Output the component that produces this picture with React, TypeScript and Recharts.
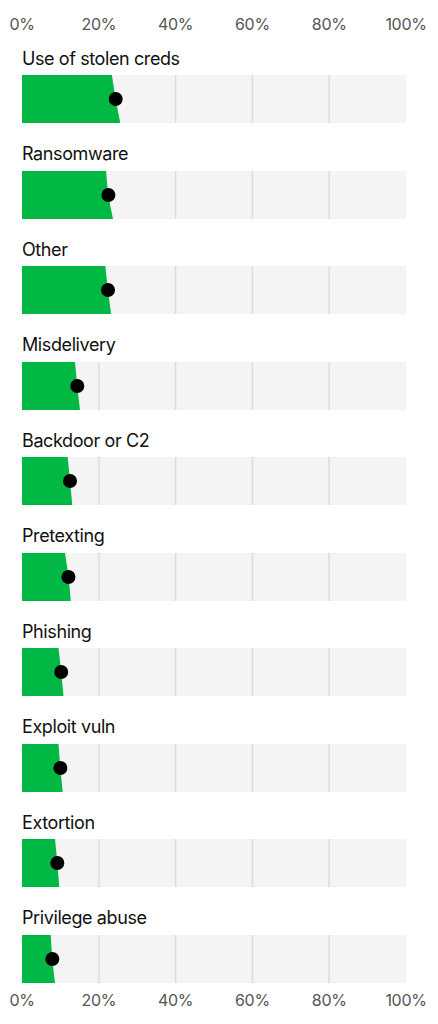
import { ComposedChart, Area, XAxis, YAxis, CartesianGrid, ReferenceDot } from "recharts"

const categories = [
  "Use of stolen creds",
  "Ransomware",
  "Other",
  "Misdelivery",
  "Backdoor or C2",
  "Pretexting",
  "Phishing",
  "Exploit vuln",
  "Extortion",
  "Privilege abuse",
]
// point estimate (%)
const values = [24.4, 22.5, 22.4, 14.4, 12.5, 12.1, 10.2, 10.0, 9.2, 7.9]
// edge of the green slab at the top and bottom of each band (%)
const lower = [23.4, 21.9, 21.7, 13.8, 11.9, 11.2, 9.5, 9.5, 8.6, 7.5]
const upper = [25.6, 23.7, 23.2, 15.1, 13.1, 12.7, 10.8, 10.6, 9.7, 8.6]
const ticks = [0, 20, 40, 60, 80, 100]

const W = 438
const LEFT = 22
const RIGHT = 32
const BAND_H = 48
const FIRST_BAND = 75
const PITCH = 95.5
const FONT = "Inter, 'Noto Sans', sans-serif"

function AxisRow({ top, orientation }: { top: number; orientation: "top" | "bottom" }) {
  return (
    <div style={{ position: "absolute", left: 0, top }}>
      <ComposedChart
        width={W}
        height={30}
        data={[{ v: 0 }]}
        margin={{ top: 0, right: RIGHT, bottom: 0, left: LEFT }}
      >
        <XAxis
          type="number"
          dataKey="v"
          domain={[0, 100]}
          ticks={ticks}
          orientation={orientation}
          axisLine={false}
          tickLine={false}
          height={30}
          tickFormatter={(t) => `${t}%`}
          tick={{ fill: "#555", fontSize: 16, fontFamily: FONT, letterSpacing: -0.3 }}
          interval={0}
        />
      </ComposedChart>
    </div>
  )
}

function Row({ i }: { i: number }) {
  const bandTop = FIRST_BAND + i * PITCH
  const slab = [
    { pos: "top", v: lower[i] },
    { pos: "mid", v: values[i] },
    { pos: "bottom", v: upper[i] },
  ]
  return (
    <>
      <div
        style={{
          position: "absolute",
          left: LEFT,
          top: bandTop - 26.5,
          fontFamily: FONT,
          fontSize: 18,
          letterSpacing: -0.4,
          color: "#111",
          lineHeight: "20px",
        }}
      >
        {categories[i]}
      </div>
      <div style={{ position: "absolute", left: 0, top: bandTop }}>
        <ComposedChart
          width={W}
          height={BAND_H}
          data={slab}
          layout="vertical"
          margin={{ top: 0, right: RIGHT, bottom: 0, left: LEFT }}
        >
          <CartesianGrid
            horizontal={false}
            vertical
            fill="#f4f4f4"
            stroke="#dcdcdc"
            strokeWidth={1.5}
            verticalValues={[20, 40, 60, 80]}
          />
          <XAxis type="number" domain={[0, 100]} hide />
          <YAxis type="category" dataKey="pos" scale="point" hide />
          <Area
            type="monotone"
            dataKey="v"
            fill="#00b843"
            fillOpacity={1}
            stroke="none"
            isAnimationActive={false}
          />
          <ReferenceDot x={values[i]} y="mid" r={7} fill="#000" stroke="none" ifOverflow="visible" />
        </ComposedChart>
      </div>
    </>
  )
}

export default function App() {
  return (
    <div style={{ position: "absolute", left: 0, top: 0, width: W, height: 1024, background: "#fff" }}>
      <AxisRow top={8} orientation="top" />
      {categories.map((_, i) => (
        <Row key={i} i={i} />
      ))}
      <AxisRow top={987} orientation="bottom" />
    </div>
  )
}
